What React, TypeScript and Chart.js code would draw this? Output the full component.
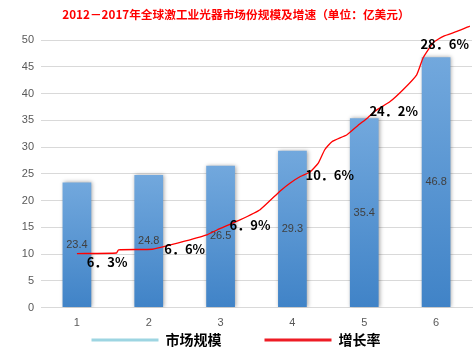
import React, { useEffect, useRef } from 'react';
import { Chart, registerables } from 'chart.js';

Chart.register(...registerables);

const titleText = '2012－2017年全球激工业光器市场份规模及增速（单位：亿美元）';
const categories = ['1', '2', '3', '4', '5', '6'];
const marketSize = [23.4, 24.8, 26.5, 29.3, 35.4, 46.8];
const growthRateLabels = ['6．3%', '6．6%', '6．9%', '10．6%', '24．2%', '28．6%'];
const growthLabelX = [1.42, 2.5, 3.41, 4.52, 5.41, 6.12];
const growthLabelY = [8.5, 10.95, 15.4, 24.8, 36.8, 49.2];
const growthLineX = [1.0, 1.55, 1.58, 2.05, 2.3, 2.5, 2.81, 2.95, 3.27, 3.55, 3.83, 3.97, 4.11, 4.25, 4.36, 4.45, 4.55, 4.76, 4.9, 5.05, 5.15, 5.36, 5.54, 5.73, 5.82, 5.96, 6.1, 6.29, 6.47];
const growthLineY = [10.1, 10.2, 10.8, 10.9, 11.7, 12.4, 13.6, 14.5, 16.4, 18.3, 21.8, 23.3, 24.5, 25.4, 27.0, 29.5, 31.0, 32.3, 33.9, 35.5, 36.7, 38.5, 40.7, 43.5, 46.7, 49.5, 50.7, 51.6, 52.6];
const legendNames = ['市场规模', '增长率'];

const labelPlugin = {
  id: 'customLabels',
  beforeDatasetDraw(chart: any, args: any) {
    if (args.index === 0) {
      const ctx = chart.ctx;
      ctx.save();
      ctx.shadowColor = 'rgba(0,0,0,0.35)';
      ctx.shadowBlur = 4;
      ctx.shadowOffsetX = 1;
      ctx.shadowOffsetY = 0;
    }
  },
  afterDatasetDraw(chart: any, args: any) {
    if (args.index === 0) {
      const ctx = chart.ctx;
      ctx.restore();
      ctx.save();
      ctx.font = '11px "Liberation Sans"';
      ctx.fillStyle = '#404040';
      ctx.textAlign = 'center';
      ctx.textBaseline = 'middle';
      args.meta.data.forEach((el: any, i: number) => {
        ctx.fillText(String(marketSize[i]), el.x, (el.y + el.base) / 2);
      });
      ctx.restore();
    }
  },
  afterDatasetsDraw(chart: any) {
    const meta = chart.getDatasetMeta(2);
    const ctx = chart.ctx;
    ctx.save();
    ctx.font = 'bold 13px "Noto Sans CJK SC"';
    ctx.fillStyle = '#000000';
    ctx.textAlign = 'center';
    ctx.textBaseline = 'middle';
    meta.data.forEach((el: any, i: number) => {
      ctx.fillText(growthRateLabels[i], el.x, el.y);
    });
    ctx.restore();
  },
};

export default function App() {
  const ref = useRef<HTMLCanvasElement | null>(null);
  useEffect(() => {
    document.body.style.margin = '0';
    const canvas = ref.current;
    if (!canvas) return;
    const chart = new Chart(canvas, {
      type: 'bar',
      data: {
        labels: categories,
        datasets: [
          {
            type: 'bar',
            label: legendNames[0],
            data: marketSize,
            order: 2,
            grouped: false,
            barPercentage: 0.4,
            categoryPercentage: 1,
            backgroundColor: (c: any) => {
              const ch = c.chart;
              if (!ch.chartArea || c.type !== 'data') return '#5b9bd5';
              const v = c.parsed ? c.parsed.y : c.raw;
              const top = ch.scales.y.getPixelForValue(v);
              const bottom = ch.scales.y.getPixelForValue(0);
              const g = ch.ctx.createLinearGradient(0, top, 0, bottom);
              g.addColorStop(0, '#72a8dd');
              g.addColorStop(1, '#4083c7');
              return g;
            },
          } as any,
          {
            type: 'line',
            label: legendNames[1],
            data: growthLineX.map((x, i) => ({ x, y: growthLineY[i] })),
            xAxisID: 'x2',
            order: 1,
            borderColor: '#ff0000',
            borderWidth: 1.3,
            pointRadius: 0,
            tension: 0.15,
            fill: false,
            clip: false,
          } as any,
          {
            type: 'scatter',
            label: 'rates',
            data: growthLabelX.map((x, i) => ({ x, y: growthLabelY[i] })),
            xAxisID: 'x2',
            order: 0,
            pointRadius: 0,
            showLine: false,
            clip: false,
          } as any,
        ],
      },
      options: {
        responsive: false,
        animation: false,
        layout: { padding: { left: 0, right: 2, top: 0, bottom: -2 } },
        scales: {
          x: {
            type: 'category',
            offset: true,
            grid: { display: false, drawTicks: false },
            border: { display: true, color: '#d9d9d9' },
            ticks: { color: '#595959', font: { family: 'Liberation Sans', size: 11 }, padding: 9 },
            afterFit: (s: any) => { s.height = 24.4; },
          },
          x2: {
            type: 'linear',
            min: 0.5,
            max: 6.5,
            offset: false,
            display: false,
          },
          y: {
            min: 0,
            max: 50,
            ticks: { stepSize: 5, color: '#595959', font: { family: 'Liberation Sans', size: 11 }, padding: 7 },
            grid: { color: '#d9d9d9', drawTicks: false },
            border: { display: false },
            afterFit: (s: any) => { s.width = 41; },
          },
        },
        plugins: {
          title: {
            display: true,
            text: titleText,
            color: '#ff0000',
            font: { family: 'Noto Sans CJK SC', size: 11.7, weight: 'bold' },
            padding: { top: 8, bottom: 18 },
          },
          legend: {
            display: true,
            position: 'bottom',
            labels: {
              boxWidth: 67,
              boxHeight: 3,
              padding: 1,
              color: '#000000',
              font: { family: 'Noto Sans CJK SC', size: 14, weight: 'bold' },
              generateLabels: () => [
                { text: legendNames[0] + '\u3000\u3000\u3000', fillStyle: '#9dd5e2', strokeStyle: '#9dd5e2', lineWidth: 0, hidden: false, datasetIndex: 0 },
                { text: legendNames[1], fillStyle: '#ee1c25', strokeStyle: '#ee1c25', lineWidth: 0, hidden: false, datasetIndex: 1 },
              ],
            },
          },
          tooltip: { enabled: false },
        },
      } as any,
      plugins: [labelPlugin],
    });
    return () => chart.destroy();
  }, []);
  return (
    <div style={{ width: 474, height: 355 }}>
      <canvas ref={ref} width={474} height={355} />
    </div>
  );
}
